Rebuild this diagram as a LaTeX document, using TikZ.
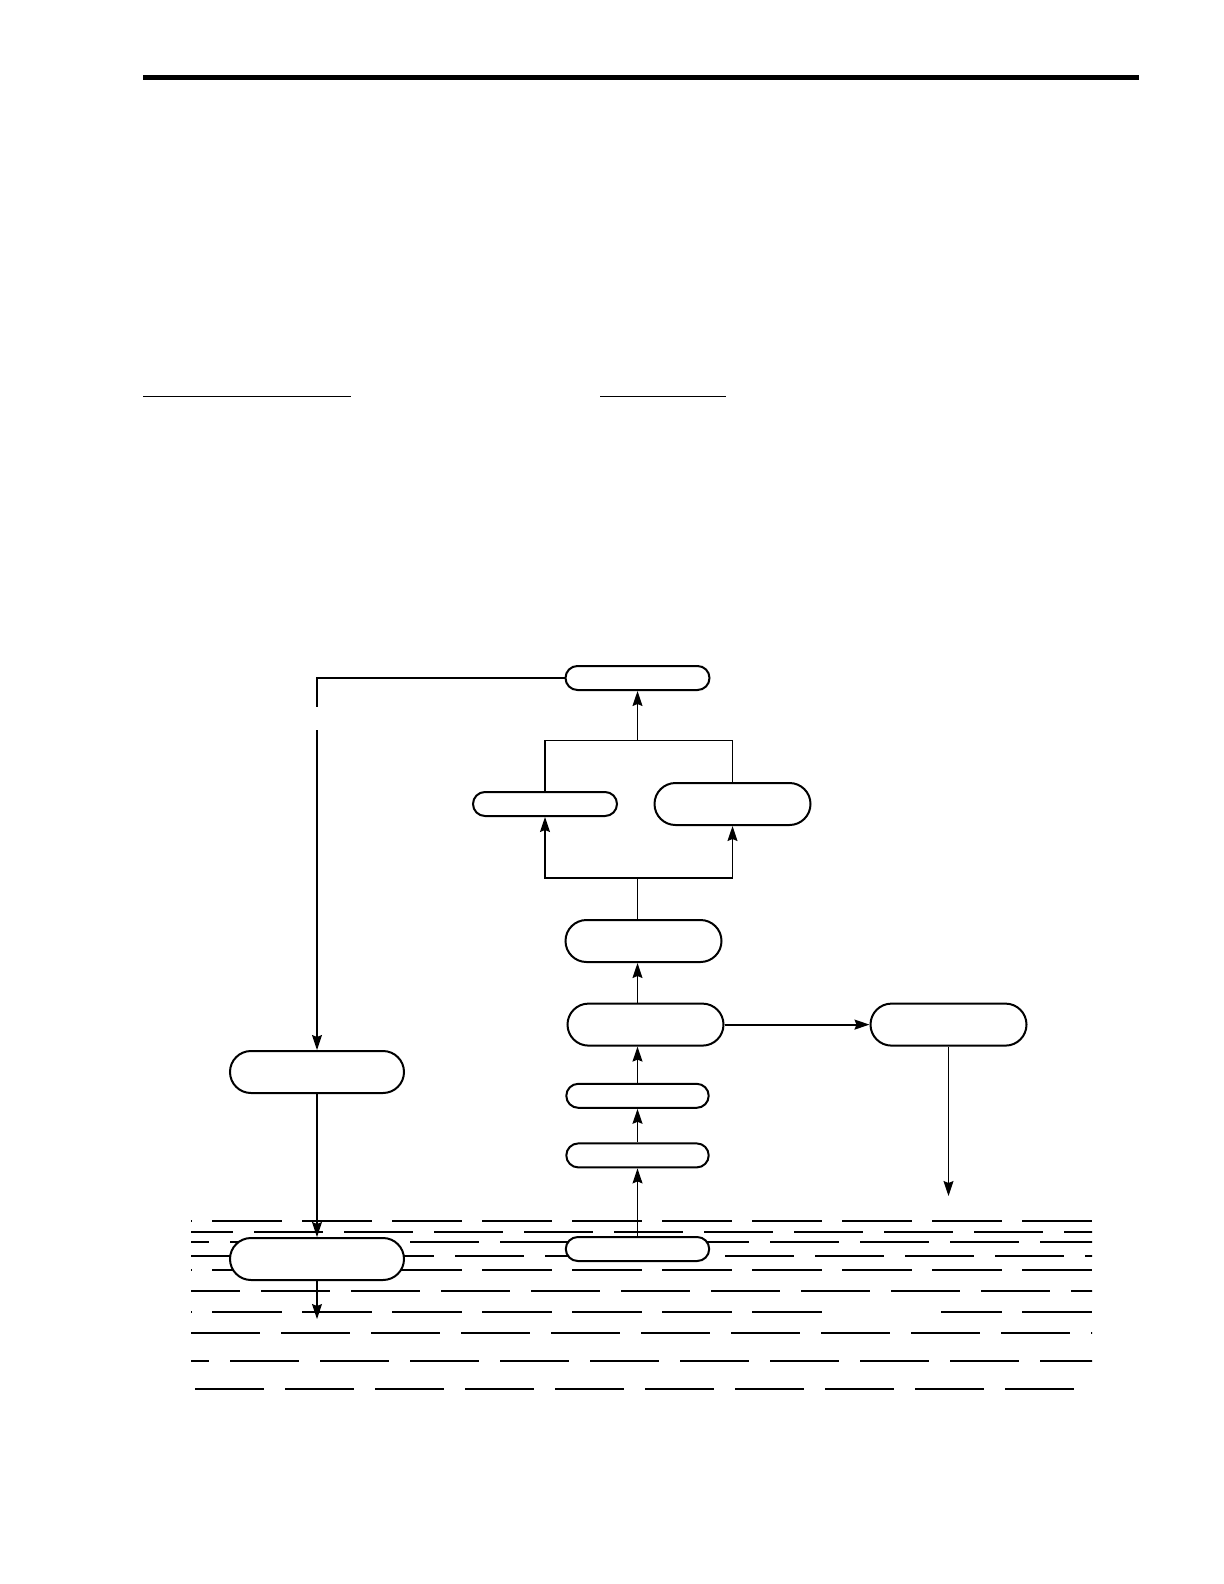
\documentclass[tikz,border=0pt]{standalone}
\usepackage{xcolor}
\usepackage{tikz}
\usetikzlibrary{arrows.meta}

\tikzset{
    pill/.style={draw, line width=1bp, fill=white, rounded corners=6bp, minimum width=72bp, minimum height=12bp, inner sep=0pt},
    bigpill/.style={pill, rounded corners=10.5bp, minimum width=78bp, minimum height=21bp},
    link/.style={line width=0.6bp},
    arr/.style={link, -{Stealth[length=7.5bp,width=5bp,inset=1bp]}},
    wave/.style={line width=0.6bp, dash pattern=on 34.65bp off 10.35bp}
}

\begin{document}
\begin{tikzpicture}[x=0.5bp, y=-0.5bp]
        \useasboundingbox (0, 0) rectangle (1224, 1584);
        \draw[line width=2.5bp] (143, 77) -- (1139, 77);
        \draw[line width=0.9bp] (143, 396.5) -- (351, 396.5);
        \draw[line width=0.9bp] (600, 396.5) -- (726, 396.5);

        % water
        \begin{scope}
            \clip (191, 1200) rectangle (1092, 1400);
            \foreach \y/\s in {1221/122.3, 1232/164, 1242/140, 1256/185, 1270/122.3, 1291/171, 1333/191, 1361/140, 1389/105}
                \draw[wave] (\s, \y) -- (1100, \y);
            \draw[wave] (122.3, 1312) -- (822, 1312);
            \draw[wave, dash phase=4.35bp] (941, 1312) -- (1100, 1312);
        \end{scope}

        \node[pill] (T) at (637.5, 678) {};
        \node[pill] (B1) at (545, 804) {};
        \node[bigpill] (B2) at (732.5, 804) {};
        \node[bigpill] (M5) at (643.5, 941) {};
        \node[bigpill] (M4) at (645.5, 1024.6) {};
        \node[pill, minimum width=71.2bp] (M3) at (637.5, 1095.8) {};
        \node[pill, minimum width=71.2bp] (M2) at (637.5, 1155.4) {};
        \node[pill, minimum width=71.7bp] (M1) at (637.5, 1249) {};
        \node[bigpill] (R) at (948.5, 1024.6) {};
        \node[bigpill, minimum width=87bp] (L1) at (317, 1072) {};
        \node[bigpill, minimum width=87bp] (L2) at (317, 1259) {};

        \coordinate (forkLow) at (637.5, 878);
        \coordinate (forkHigh) at (637.5, 740.7);
        \coordinate (gapTop) at (317, 707.3);
        \coordinate (gapBot) at (317, 730);
        \coordinate (drain) at (317, 1319);
        \coordinate (sinkR) at (948.5, 1196);

        \draw[arr] (M1.north) -- (M2.south);
        \draw[arr] (M2.north) -- (M3.south);
        \draw[arr] (M3.north) -- (M3.north |- M4.south);
        \draw[arr] (M3.north |- M4.north) -- (M3.north |- M5.south);
        \draw[link] (M3.north |- M5.north) -- (forkLow);
        \draw[arr] (forkLow) -| (B1.south);
        \draw[arr] (forkLow) -| (B2.south);
        \draw[link] (B1.north) |- (forkHigh) -| (B2.north);
        \draw[arr] (forkHigh) -- (T.south);

        \draw[arr, line width=0.9bp] (M4.east) -- (R.west);
        \draw[arr] (R.south) -- (sinkR);

        \draw[link, line width=0.8bp] (T.west) -| (gapTop);
        \draw[arr] (gapBot) -- (L1.north);
        \draw[arr] (L1.south) -- (L2.north);
        \draw[arr] (L2.south) -- (drain);
\end{tikzpicture}
\end{document}
